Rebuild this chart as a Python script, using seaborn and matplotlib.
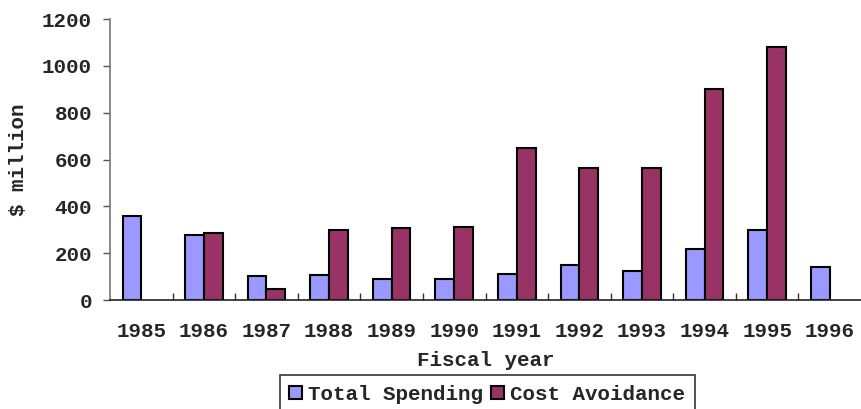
import pandas as pd
import numpy as np
import matplotlib.pyplot as plt
import seaborn as sns

years = ["1985", "1986", "1987", "1988", "1989", "1990",
         "1991", "1992", "1993", "1994", "1995", "1996"]
total_spending = [360, 278, 101, 108, 90, 90, 111, 149, 124, 218, 299, 142]
cost_avoidance = [np.nan, 285, 47, 297, 307, 312, 649, 562, 562, 901, 1080, np.nan]
series_names = ["Total Spending", "Cost Avoidance"]
colors = ["#9999FF", "#993366"]

df = pd.DataFrame({
    "year": years * 2,
    "value": total_spending + cost_avoidance,
    "series": [series_names[0]] * len(years) + [series_names[1]] * len(years),
})

sns.set_style("white")
plt.rcParams["font.family"] = ["Liberation Mono", "DejaVu Sans Mono"]
plt.rcParams["font.weight"] = "bold"

fig = plt.figure(figsize=(8.61, 4.09), dpi=100)
ax = fig.add_axes([0.1278, 0.2665, 0.8722, 0.687])

sns.barplot(data=df, x="year", y="value", hue="series", palette=colors,
            width=0.6, saturation=1, edgecolor="black", linewidth=1.5,
            ax=ax, legend=True)

ax.set_xlim(-0.5, 11.5)
ax.set_ylim(0, 1200)
ax.set_yticks(range(0, 1201, 200))
ax.tick_params(axis="y", direction="out", length=5, width=1, color="#555555",
               labelsize=15, pad=8, left=True)
ax.tick_params(axis="x", which="major", length=0, labelsize=15, pad=16)
ax.set_xticks(np.arange(0.5, 11, 1), minor=True)
ax.tick_params(axis="x", which="minor", direction="in", length=5, width=1,
               color="#333333", bottom=True)

for s in ["top", "right"]:
    ax.spines[s].set_visible(False)
ax.spines["left"].set_color("#777777")
ax.spines["bottom"].set_color("#222222")
ax.spines["left"].set_linewidth(1.2)
ax.spines["bottom"].set_linewidth(1.2)

ax.set_xlabel("Fiscal year", fontsize=15, fontweight="bold", labelpad=7)
ax.set_ylabel("$ million", fontsize=15, fontweight="bold", labelpad=10)

handles, labels = ax.get_legend_handles_labels()
ax.legend_.remove()
leg = fig.legend(handles, labels, loc="upper center", bbox_to_anchor=(0.566, 0.082),
                 ncol=2, frameon=True, fancybox=False, edgecolor="black",
                 fontsize=15, handlelength=0.6, handleheight=0.6,
                 handletextpad=0.3, columnspacing=0.4, borderpad=0.45,
                 borderaxespad=0)
leg.get_frame().set_linewidth(1.2)

fig.savefig("out.png", dpi=100)
